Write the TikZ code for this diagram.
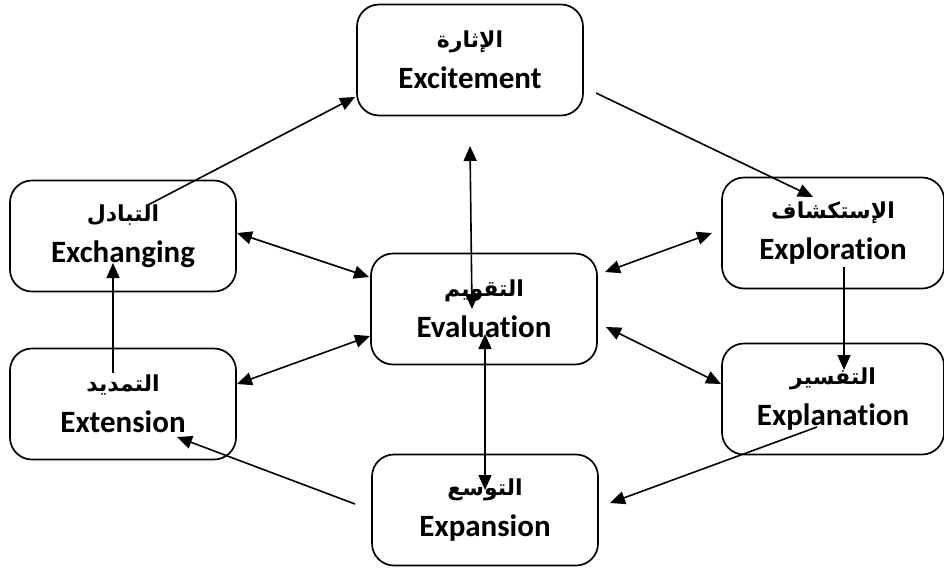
\documentclass[tikz,border=0pt]{standalone}
\usepackage{fontspec}
\setmainfont{Carlito}[Ligatures=CommonOff]
\newfontfamily\arabicfont[Script=Arabic]{DejaVu Sans}
\TeXXeTstate=1
\usetikzlibrary{arrows.meta}

\newcommand{\arlabel}[1]{{\arabicfont\fontsize{22}{22}\selectfont\beginR #1\endR}}

\tikzset{
  phase/.style={draw, line width=1.7pt, rounded corners=22pt,
    minimum width=226pt, minimum height=111pt, align=center,
    font=\fontsize{31}{41}\selectfont\bfseries},
  flow/.style={line width=1.6pt, -{Triangle[length=15pt,width=13pt]}},
  twoway/.style={line width=1.6pt,
    {Triangle[length=15pt,width=13pt]}-{Triangle[length=15pt,width=13pt]}}
}

\begin{document}
\begin{tikzpicture}[x=1pt, y=-1pt]
    \useasboundingbox (0,0) rectangle (944,571);

    % the seven stages
    \node[phase] (excite) at (470,60) {\arlabel{الإثارة}\\Excitement};
    \node[phase] (exchange) at (123,236) {\arlabel{التبادل}\\Exchanging};
    \node[phase] (evaluate) at (484,309) {\arlabel{التقويم}\\Evaluation};
    \node[phase, minimum width=222pt] (explore) at (833,233) {\arlabel{الإستكشاف}\\Exploration};
    \node[phase, minimum width=222pt] (explain) at (833,399) {\arlabel{التفسير}\\Explanation};
    \node[phase] (expand) at (485,510) {\arlabel{التوسع}\\Expansion};
    \node[phase] (extend) at (123,404) {\arlabel{التمديد}\\Extension};

    % arrow ends
    \coordinate (exchOut) at (148,205);   \coordinate (excIn) at (355,97);
    \coordinate (excOut) at (596,93);     \coordinate (explrIn) at (813,197);
    \coordinate (explrOut) at (844,267);  \coordinate (explnIn) at (844,370);
    \coordinate (explnOut) at (817,427);  \coordinate (expnIn) at (610,503);
    \coordinate (expnOut) at (355,504);   \coordinate (extIn) at (177,437);
    \coordinate (extOut) at (113,373);    \coordinate (exchIn) at (113,263);

    \coordinate (exchEv) at (237,233);    \coordinate (evExch) at (369,277);
    \coordinate (extEv) at (237,384);     \coordinate (evExt) at (370,336);
    \coordinate (evExplr) at (605,272);   \coordinate (explrEv) at (712,233);
    \coordinate (evExpln) at (606,327);   \coordinate (explnEv) at (721,384);
    \coordinate (excEv) at (470,146);     \coordinate (evExc) at (472,309);
    \coordinate (evExpn) at (485,334);    \coordinate (expnEv) at (485,490);

    \path[flow]
    (exchOut) edge (excIn)
        (excOut) edge (explrIn)
    (explrOut) edge (explnIn)
        (explnOut) edge (expnIn)
    (expnOut) edge (extIn)
        (extOut) edge (exchIn);

    \path[twoway]
    (exchEv) edge (evExch)
        (extEv) edge (evExt)
    (evExplr) edge (explrEv)
        (evExpln) edge (explnEv)
    (excEv) edge (evExc)
        (evExpn) edge (expnEv);
\end{tikzpicture}
\end{document}
